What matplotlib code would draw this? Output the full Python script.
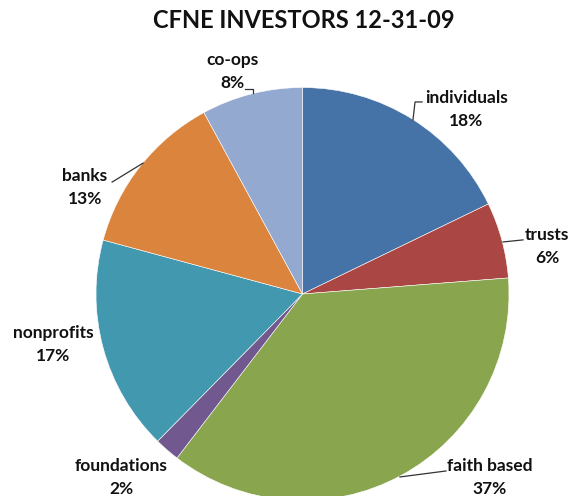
import matplotlib.pyplot as plt

# Investor shares (%), clockwise from the top
categories = ["individuals", "trusts", "faith based", "foundations",
              "nonprofits", "banks", "co-ops"]
shares = [18, 6, 37, 2, 17, 13, 8]
colors = ["#4572A7", "#AA4643", "#89A54E", "#71588F",
          "#4198AF", "#DB843D", "#93A9CF"]

# label centres and leader lines in pie units (radius = 1)
label_pos = [(0.792, 0.893), (1.184, 0.230), (0.908, -0.889), (-0.879, -0.889),
             (-1.208, -0.245), (-1.053, 0.516), (-0.337, 1.077)]
leaders = [
    [(0.535, 0.843), (0.545, 0.930), (0.579, 0.930)],
    [(0.971, 0.252), (1.068, 0.262)],
    [(0.472, -0.886), (0.695, -0.857)],
    None,
    None,
    [(-0.922, 0.542), (-0.772, 0.634)],
    [(-0.278, 0.993), (-0.240, 0.993), (-0.240, 0.973)],
]

plt.rcParams["font.family"] = ["Lato", "DejaVu Sans"]

fig = plt.figure(figsize=(5.69, 4.96), dpi=100)
ax = fig.add_axes([0, 0, 1, 1])

ax.pie(shares, colors=colors, startangle=90, counterclock=False, radius=1,
       wedgeprops=dict(edgecolor="white", linewidth=0.4))

for name, val, (x, y) in zip(categories, shares, label_pos):
    ax.text(x, y, f"{name}\n{val}%", ha="center", va="center",
            fontsize=12.5, fontweight="bold", linespacing=1.6, color="#111111")

for pts in leaders:
    if pts:
        ax.plot([p[0] for p in pts], [p[1] for p in pts], color="#333333", lw=0.9)

fig.text(0.534, 0.959, "CFNE INVESTORS 12-31-09", ha="center", va="center",
         fontsize=17, fontweight="bold", color="#111111")

ax.set_xlim(-302.5 / 206.5, 266.5 / 206.5)
ax.set_ylim(-202 / 206.5, 294 / 206.5)
ax.set_aspect("auto")
ax.axis("off")

fig.savefig("out.png", dpi=100)
